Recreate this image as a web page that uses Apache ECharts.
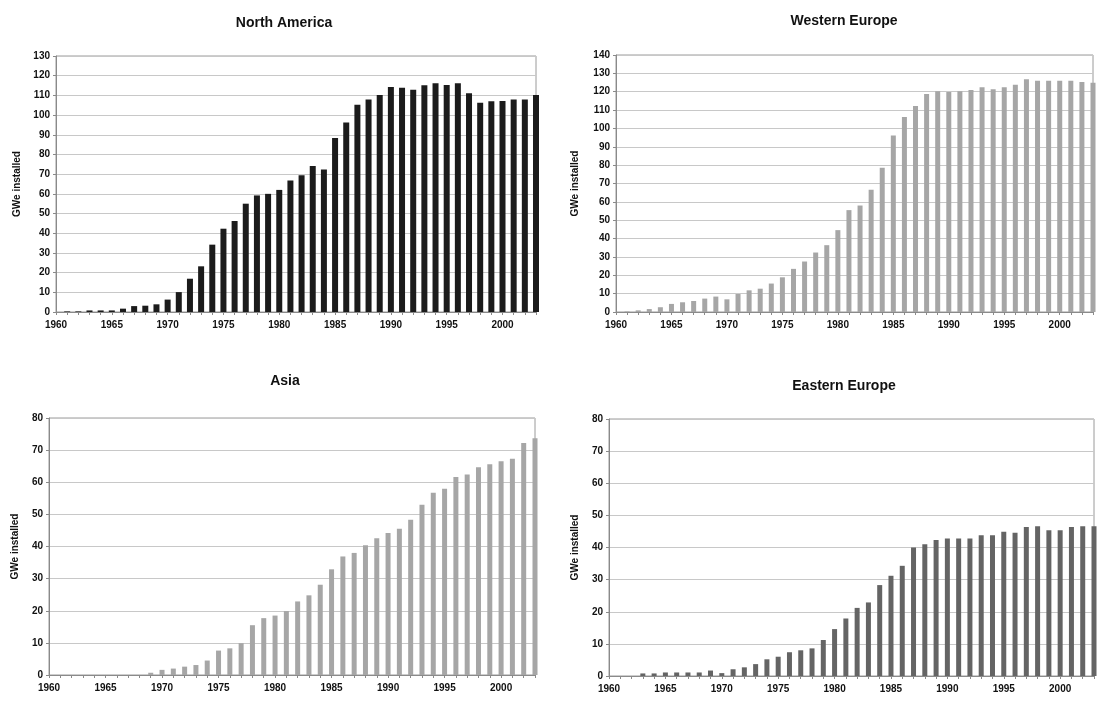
<!DOCTYPE html>
<html><head><meta charset="utf-8">
<script src="https://cdn.jsdelivr.net/npm/echarts@6/dist/echarts.min.js"></script>
<style>html,body{margin:0;padding:0;background:#fff}#c{width:1097px;height:701px}</style>
</head><body><div id="c"></div>
<script>
const years = [];
for (let y = 1960; y <= 2003; y++) years.push(String(y));

const northAmerica = [0,0.3,0.3,0.8,0.8,0.8,1.7,3.0,3.2,3.9,6.3,10.1,16.9,23.2,34.2,42.3,46.2,55.0,59.2,60.0,
  62.0,66.8,69.5,74.2,72.4,88.3,96.2,105.3,107.9,110.2,114.3,113.9,112.8,115.1,116.1,115.3,116.1,111.1,106.3,107.0,107.2,107.9,107.9,110.2];
const westernEurope = [0,0.3,0.9,1.6,2.6,4.4,5.3,6.0,7.3,8.4,6.9,9.8,11.8,12.7,15.5,18.9,23.5,27.5,32.4,36.4,
  44.6,55.5,58.0,66.6,78.6,96.2,106.2,112.2,118.8,120.2,119.9,120.2,121.0,122.4,121.3,122.4,123.8,126.8,126.0,126.0,126.0,126.0,125.3,124.9];
const asia = [0,0,0,0,0,0,0,0,0,0.7,1.6,2.0,2.6,3.1,4.5,7.6,8.3,9.9,15.5,17.7,
  18.5,19.9,22.9,24.8,28.1,32.9,36.9,38.0,40.4,42.6,44.2,45.5,48.3,53.0,56.7,58.0,61.6,62.4,64.7,65.6,66.5,67.3,72.2,73.7];
const easternEurope = [0,0,0,0.8,0.8,1.1,1.1,1.1,1.1,1.7,0.9,2.1,2.7,3.7,5.2,6.0,7.4,8.0,8.6,11.2,
  14.6,17.9,21.2,22.9,28.3,31.2,34.3,40.0,41.0,42.3,42.8,42.8,42.8,43.8,43.8,44.9,44.6,46.4,46.6,45.4,45.4,46.4,46.6,46.6];

const panelTitles = ['North America','Western Europe','Asia','Eastern Europe'];
const panelData = [northAmerica, westernEurope, asia, easternEurope];
const yMax = [130, 140, 80, 80];
const yStep = [10, 10, 10, 10];

const colors = ['#1b1b1b', '#a6a6a6', '#a6a6a6', '#646464'];
const barW = [6, 5, 5, 5];
const grids = [
  {left: 56, top: 56, width: 480, height: 256},
  {left: 616, top: 55, width: 477, height: 257},
  {left: 49, top: 418, width: 486, height: 257},
  {left: 609, top: 419, width: 485, height: 257}
];
const titlePos = [{x: 279, y: 11}, {x: 839, y: 9}, {x: 280, y: 369}, {x: 839, y: 374}];
const nameGaps = [34, 36, 29, 29];
const font = '"Liberation Sans", Arial, sans-serif';

const option = {
  backgroundColor: '#fff',
  animation: false,
  title: panelTitles.map((t, i) => ({
    text: t, left: titlePos[i].x, top: titlePos[i].y, textAlign: 'center',
    textStyle: {fontFamily: font, fontWeight: 'bold', fontSize: 14, color: '#111'}
  })),
  grid: grids.map(g => Object.assign({show: true, borderColor: '#9a9a9a', borderWidth: 1, backgroundColor: '#fff'}, g)),
  xAxis: grids.map((g, i) => ({
    type: 'category', gridIndex: i, data: years, boundaryGap: false,
    axisLine: {lineStyle: {color: '#8a8a8a', width: 1}},
    axisTick: {show: true, interval: 0, length: 3, lineStyle: {color: '#8a8a8a'}},
    axisLabel: {interval: 4, margin: 8, fontFamily: font, fontWeight: 'bold', fontSize: 10, color: '#111'},
    splitLine: {show: false}
  })),
  yAxis: grids.map((g, i) => ({
    type: 'value', gridIndex: i, min: 0, max: yMax[i], interval: yStep[i],
    name: 'GWe installed', nameLocation: 'middle', nameGap: nameGaps[i],
    nameTextStyle: {fontFamily: font, fontWeight: 'bold', fontSize: 10, color: '#111'},
    axisLine: {show: true, lineStyle: {color: '#8a8a8a', width: 1}},
    axisTick: {show: true, length: 3, lineStyle: {color: '#8a8a8a'}},
    axisLabel: {margin: 6, fontFamily: font, fontWeight: 'bold', fontSize: 10, color: '#111'},
    splitLine: {show: true, lineStyle: {color: '#c8c8c8', width: 1}}
  })),
  series: panelData.map((d, i) => ({
    type: 'bar', xAxisIndex: i, yAxisIndex: i, data: d, barWidth: barW[i], clip: false,
    itemStyle: {color: colors[i]}
  }))
};
echarts.init(document.getElementById('c'), null, {renderer: 'canvas'}).setOption(option);
</script></body></html>
